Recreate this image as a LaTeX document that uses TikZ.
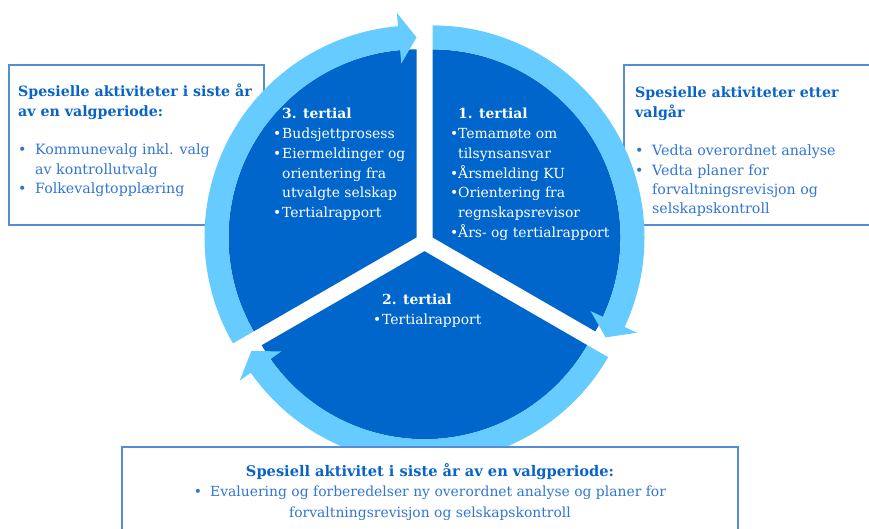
\documentclass[tikz,border=0pt]{standalone}
\usepackage{fontspec}
\setmainfont{DejaVu Serif}
\usetikzlibrary{positioning}

\definecolor{sectorblue}{RGB}{0,102,204}
\definecolor{ringblue}{RGB}{102,204,255}
\definecolor{frameblue}{RGB}{84,141,214}
\definecolor{headblue}{RGB}{10,100,200}
\definecolor{itemblue}{RGB}{50,118,212}

\tikzset{
    pie/.style={fill=sectorblue},
    ring/.style={fill=ringblue},
    infobox/.style={draw=frameblue, line width=1.5pt, fill=white},
    boxtext/.style={text=itemblue, inner sep=0pt, align=left,
        font=\fontsize{14.2}{19.3}\selectfont},
    piecetext/.style={text=white, inner sep=0pt, align=left, anchor=north west,
        font=\fontsize{13.9}{19.8}\selectfont}
}

\begin{document}
\begin{tikzpicture}[x=1pt, y=1pt]
    \useasboundingbox (0,0) rectangle (869,529);

    % side boxes (below the cycle)
    \draw[infobox] (9,304) rectangle (264,464);
    \draw[infobox] (624,304) rectangle (885,464);

    % 1. tertial
    \begin{scope}[shift={(432.5,291.6)}]
        \fill[pie] (0,0) -- (-30:188) arc[start angle=-30, end angle=90, radius=188] -- cycle;
        \fill[ring] (90:212) arc[start angle=90, end angle=-25, radius=212]
            -- (-25:225.5) -- (-30:200) -- (-25:174.5) -- (-25:188)
            arc[start angle=-25, end angle=90, radius=188] -- cycle;
    \end{scope}
    % 2. tertial
    \begin{scope}[shift={(424.5,277.8)}]
        \fill[pie] (0,0) -- (210:188) arc[start angle=210, end angle=330, radius=188] -- cycle;
        \fill[ring] (-30:212) arc[start angle=-30, end angle=-145, radius=212]
            -- (-145:225.5) -- (-150:200) -- (-145:174.5) -- (-145:188)
            arc[start angle=-145, end angle=-30, radius=188] -- cycle;
    \end{scope}
    % 3. tertial
    \begin{scope}[shift={(416.5,291.6)}]
        \fill[pie] (0,0) -- (90:188) arc[start angle=90, end angle=210, radius=188] -- cycle;
        \fill[ring] (210:212) arc[start angle=210, end angle=95, radius=212]
            -- (95:225.5) -- (90:200) -- (95:174.5) -- (95:188)
            arc[start angle=95, end angle=210, radius=188] -- cycle;
    \end{scope}

    \node[piecetext] (first) at (450,421) {%
        \hspace*{8pt}\textbf{1. tertial}\\
        \makebox[8pt][l]{•}Temamøte om\\
        \hspace*{8pt}tilsynsansvar\\
        \makebox[8pt][l]{•}Årsmelding KU\\
        \makebox[8pt][l]{•}Orientering fra\\
        \hspace*{8pt}regnskapsrevisor\\
        \makebox[8pt][l]{•}Års- og tertialrapport};
    \node[piecetext] (second) at (373,235) {%
        \hspace*{9pt}\textbf{2. tertial}\\
        \makebox[9pt][l]{•}Tertialrapport};
    \node[piecetext] (third) at (273,421) {%
        \hspace*{9pt}\textbf{3. tertial}\\
        \makebox[9pt][l]{•}Budsjettprosess\\
        \makebox[9pt][l]{•}Eiermeldinger og\\
        \hspace*{9pt}orientering fra\\
        \hspace*{9pt}utvalgte selskap\\
        \makebox[9pt][l]{•}Tertialrapport};

    \node[boxtext, anchor=north west] (lefttext) at (18,445) {%
        \textcolor{headblue}{\textbf{Spesielle aktiviteter i siste år}}\\
        \textcolor{headblue}{\textbf{av en valgperiode:}}\\[19.3pt]
        \makebox[17pt][l]{•}Kommunevalg inkl. valg\\
        \hspace*{17pt}av kontrollutvalg\\
        \makebox[17pt][l]{•}Folkevalgtopplæring};
    \node[boxtext, anchor=north west] (righttext) at (635,442) {%
        \textcolor{headblue}{\textbf{Spesielle aktiviteter etter}}\\
        \textcolor{headblue}{\textbf{valgår}}\\[19.3pt]
        \makebox[17pt][l]{•}Vedta overordnet analyse\\
        \makebox[17pt][l]{•}Vedta planer for\\
        \hspace*{17pt}forvaltningsrevisjon og\\
        \hspace*{17pt}selskapskontroll};

    % bottom box covers the cycle
    \draw[infobox] (122,-8) rectangle (738,82);
    \node[boxtext, align=center, anchor=north,
        font=\fontsize{13.9}{20.5}\selectfont] (bottomtext) at (430,66) {%
        \textcolor{headblue}{\fontsize{14.6}{20.5}\selectfont\textbf{Spesiell aktivitet i siste år av en valgperiode:}}\\
        •\hspace{8pt}Evaluering og forberedelser ny overordnet analyse og planer for\\
        forvaltningsrevisjon og selskapskontroll};
\end{tikzpicture}
\end{document}
